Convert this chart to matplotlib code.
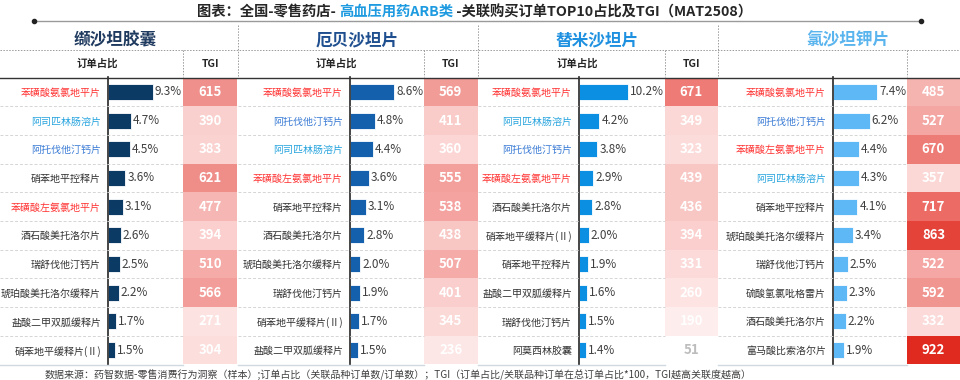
import matplotlib
matplotlib.use("Agg")
import matplotlib.pyplot as plt
import numpy as np
from matplotlib.lines import Line2D
from matplotlib.colors import LinearSegmentedColormap, Normalize

plt.rcParams['font.family'] = ['Noto Sans CJK SC', 'DejaVu Sans']

# ---- data ----
groups = ['缬沙坦胶囊', '厄贝沙坦片', '替米沙坦片', '氯沙坦钾片']

drugs_1 = ['苯磺酸氨氯地平片', '阿司匹林肠溶片', '阿托伐他汀钙片', '硝苯地平控释片', '苯磺酸左氨氯地平片',
           '酒石酸美托洛尔片', '瑞舒伐他汀钙片', '琥珀酸美托洛尔缓释片', '盐酸二甲双胍缓释片', '硝苯地平缓释片(Ⅱ)']
share_1 = [9.3, 4.7, 4.5, 3.6, 3.1, 2.6, 2.5, 2.2, 1.7, 1.5]
tgi_1 = [615, 390, 383, 621, 477, 394, 510, 566, 271, 304]

drugs_2 = ['苯磺酸氨氯地平片', '阿托伐他汀钙片', '阿司匹林肠溶片', '苯磺酸左氨氯地平片', '硝苯地平控释片',
           '酒石酸美托洛尔片', '琥珀酸美托洛尔缓释片', '瑞舒伐他汀钙片', '硝苯地平缓释片(Ⅱ)', '盐酸二甲双胍缓释片']
share_2 = [8.6, 4.8, 4.4, 3.6, 3.1, 2.8, 2.0, 1.9, 1.7, 1.5]
tgi_2 = [569, 411, 360, 555, 538, 438, 507, 401, 345, 236]

drugs_3 = ['苯磺酸氨氯地平片', '阿司匹林肠溶片', '阿托伐他汀钙片', '苯磺酸左氨氯地平片', '酒石酸美托洛尔片',
           '硝苯地平缓释片(Ⅱ)', '硝苯地平控释片', '盐酸二甲双胍缓释片', '瑞舒伐他汀钙片', '阿莫西林胶囊']
share_3 = [10.2, 4.2, 3.8, 2.9, 2.8, 2.0, 1.9, 1.6, 1.5, 1.4]
tgi_3 = [671, 349, 323, 439, 436, 394, 331, 260, 190, 51]

drugs_4 = ['苯磺酸氨氯地平片', '阿托伐他汀钙片', '苯磺酸左氨氯地平片', '阿司匹林肠溶片', '硝苯地平控释片',
           '琥珀酸美托洛尔缓释片', '瑞舒伐他汀钙片', '硫酸氢氯吡格雷片', '酒石酸美托洛尔片', '富马酸比索洛尔片']
share_4 = [7.4, 6.2, 4.4, 4.3, 4.1, 3.4, 2.5, 2.3, 2.2, 1.9]
tgi_4 = [485, 527, 670, 357, 717, 863, 522, 592, 332, 922]

all_drugs = [drugs_1, drugs_2, drugs_3, drugs_4]
all_share = [share_1, share_2, share_3, share_4]
all_tgi = [tgi_1, tgi_2, tgi_3, tgi_4]

# ---- styles ----
bar_colors = ['#0B3A64', '#1560AC', '#0A8FE3', '#5EB8F5']
group_colors = ['#1F3A5F', '#1F4F8F', '#1E90E0', '#5AB4EE']
label_colors = {'苯磺酸氨氯地平片': '#FF3535', '苯磺酸左氨氯地平片': '#FF3535',
                '阿司匹林肠溶片': '#27A4DE', '阿托伐他汀钙片': '#3A7BD5'}

# red scale for TGI cells
stops = [(51, '#FFFFFF'), (236, '#FDE7E6'), (350, '#FBD8D6'), (440, '#F8C6C3'), (510, '#F5AAA7'),
         (570, '#F29C98'), (620, '#EF8E8A'), (670, '#EE7C76'), (717, '#EC6B64'), (863, '#E4433A'),
         (922, '#E0291F')]
vmin, vmax = 51, 922
cmap = LinearSegmentedColormap.from_list(
    'tgi', [((v - vmin) / (vmax - vmin), c) for v, c in stops])
norm = Normalize(vmin, vmax)

W, H = 960, 380
fig = plt.figure(figsize=(W / 100, H / 100), dpi=100)


def fx(x):
    return x / W


def fy(y):
    return 1 - y / H


def hline(y, x0, x1, **kw):
    fig.add_artist(Line2D([fx(x0), fx(x1)], [fy(y), fy(y)], **kw))


def vline(x, y0, y1, **kw):
    fig.add_artist(Line2D([fx(x), fx(x)], [fy(y0), fy(y1)], **kw))


# ---- title ----
t1 = fig.text(fx(197), fy(12), '图表：全国-零售药店- ', fontsize=10.3, fontweight='bold',
              color='#262626', va='center', ha='left')
t2 = fig.text(0, 0, '高血压用药ARB类', fontsize=10.3, fontweight='bold', color='#1E9BE0')
t3 = fig.text(0, 0, ' -关联购买订单TOP10占比及TGI（MAT2508）', fontsize=10.3, fontweight='bold',
              color='#262626')
fig.canvas.draw()
r = fig.canvas.get_renderer()
bb1 = t1.get_window_extent(r)
t2.set_position((bb1.x1 / W, fy(12)))
t2.set_va('center')
bb2 = t2.get_window_extent(r)
t3.set_position((bb2.x1 / W, fy(12)))
t3.set_va('center')
fig.add_artist(Line2D([fx(34), fx(921)], [fy(21), fy(21)], color='#9A9A9A', lw=1.0,
                      marker='o', markersize=3, markevery=[0, 1], markerfacecolor='#222222',
                      markeredgecolor='#222222'))

# ---- table header lines ----
dot = dict(color='#9A9A9A', lw=0.7, ls=(0, (1.5, 1.5)))
hline(50, 0, 960, **dot)
for x in [237.5, 478, 718]:
    vline(x, 25, 77, **dot)
hline(77.5, 0, 960, color='#333333', lw=1.0)

top, rh, n = 77.5, 28.7, 10
bottom = top + rh * n

axis_x = [108, 350, 579, 833]
tgi_x0 = [183, 423.5, 665, 907]
tgi_x1 = [237.5, 478, 718, 960]
xlims = [15.5, 14.3, 17.9, 12.4]
panel_x0 = [0, 237.5, 478, 718]
group_cx = [115, 357, 597, 848]
show_sub = [True, True, True, False]

for i in range(4):
    drugs, share, tgi = all_drugs[i], all_share[i], all_tgi[i]
    fig.text(fx(group_cx[i]), fy(40), groups[i], fontsize=12, fontweight='bold',
             color=group_colors[i], ha='center', va='center')
    vline(tgi_x0[i], 50, 77, **dot)
    if show_sub[i]:
        fig.text(fx((panel_x0[i] + tgi_x0[i]) / 2 + 6), fy(64), '订单占比', fontsize=7.5,
                 fontweight='bold', color='#262626', ha='center', va='center')
        fig.text(fx((tgi_x0[i] + tgi_x1[i]) / 2), fy(64), 'TGI', fontsize=7.5,
                 fontweight='bold', color='#262626', ha='center', va='center')

    # row separators
    for k in range(1, n):
        hline(top + rh * k, panel_x0[i], tgi_x0[i], color='#D5D5D5', lw=0.7, ls=(0, (3, 2)))
    hline(bottom, panel_x0[i], tgi_x0[i], color='#D0D8E0', lw=1.0)

    # bars
    ax = fig.add_axes([fx(axis_x[i]), fy(bottom), fx(tgi_x0[i] - axis_x[i]), (bottom - top) / H])
    y = np.arange(n)
    ax.barh(y, share, height=0.56, color=bar_colors[i], edgecolor='white', linewidth=0.6)
    ax.set_xlim(0, xlims[i])
    ax.set_ylim(n - 0.5, -0.5)
    for yy, v in zip(y, share):
        ax.text(v + xlims[i] * 0.025, yy, f'{v:.1f}%', fontsize=8.5, color='#404040',
                va='center', ha='left')
    ax.set_yticks(y)
    ax.set_yticklabels(drugs, fontsize=7.2)
    for lab, name in zip(ax.get_yticklabels(), drugs):
        lab.set_color(label_colors.get(name, '#333333'))
    ax.tick_params(axis='y', length=0, pad=5)
    ax.set_xticks([])
    for s in ['top', 'right', 'bottom']:
        ax.spines[s].set_visible(False)
    ax.spines['left'].set_color('#262626')
    ax.spines['left'].set_linewidth(1.2)
    ax.patch.set_alpha(0)

    # TGI cells
    axt = fig.add_axes([fx(tgi_x0[i]), fy(bottom), fx(tgi_x1[i] - tgi_x0[i]), (bottom - top) / H])
    axt.barh(y, [1] * n, height=1.0, color=[cmap(norm(v)) for v in tgi], linewidth=0)
    axt.set_xlim(0, 1)
    axt.set_ylim(n - 0.5, -0.5)
    for yy, v in zip(y, tgi):
        axt.text(0.5, yy, str(v), fontsize=9.5, fontweight='bold', ha='center', va='center',
                 color='#BDBDBD' if v < 100 else 'white')
    axt.axis('off')

# ---- footer ----
fig.text(fx(45), fy(375),
         '数据来源：药智数据-零售消费行为洞察（样本）;订单占比（关联品种订单数/订单数）；'
         'TGI（订单占比/关联品种订单在总订单占比*100，TGI越高关联度越高）',
         fontsize=7.2, color='#404040', ha='left', va='center', style='italic')

fig.savefig('out.png', dpi=100)
